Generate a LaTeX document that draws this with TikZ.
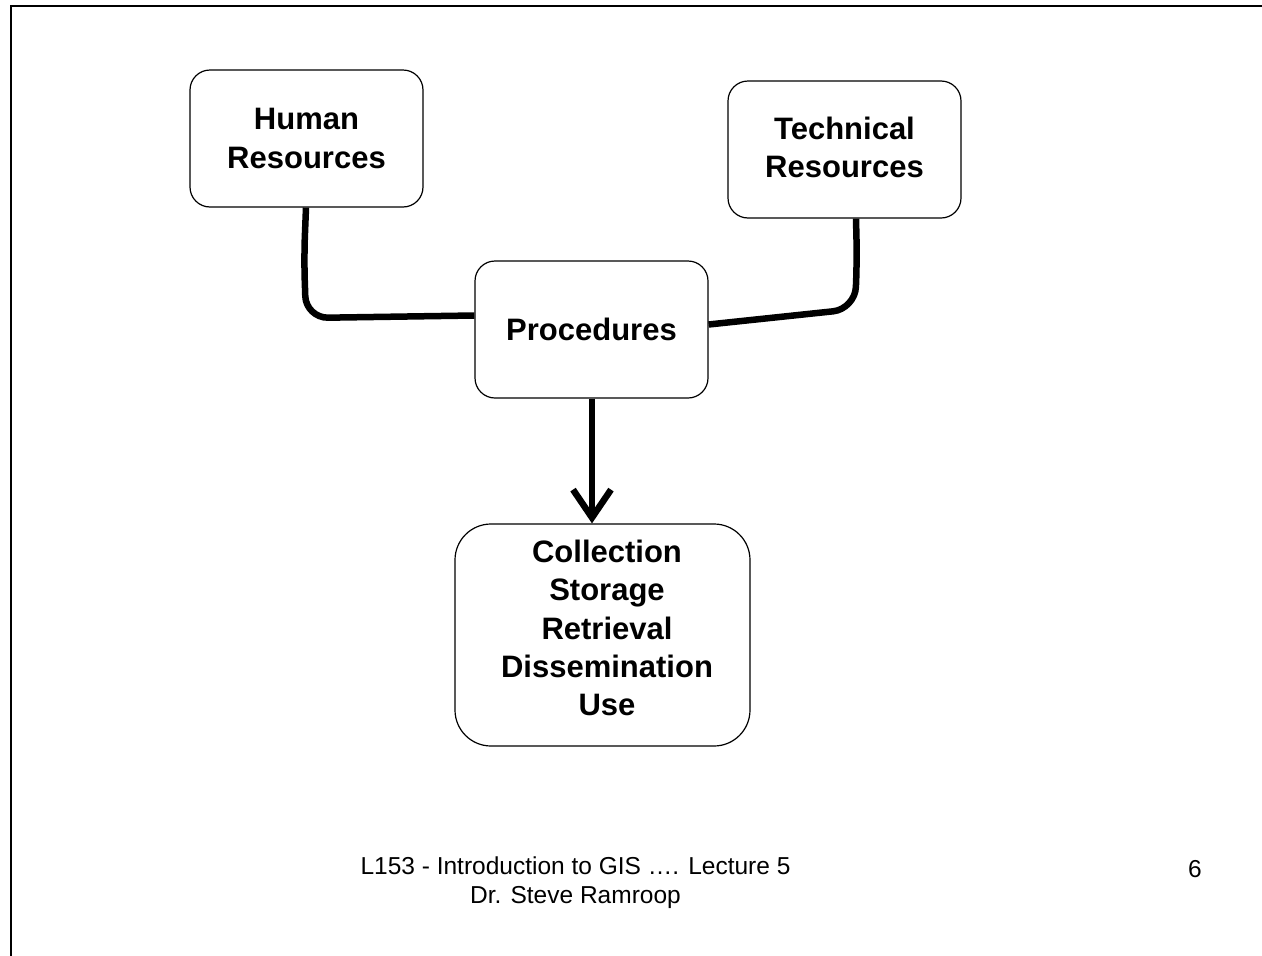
\documentclass[tikz,border=0pt]{standalone}
\usepackage{fontspec}
\setmainfont{Liberation Sans}
\usetikzlibrary{arrows.meta}
\begin{document}
\begin{tikzpicture}[x=1pt,y=-1pt,
  txt/.style={align=center, inner sep=0pt, font=\fontsize{31}{38.3}\selectfont\bfseries},
  box/.style={txt, draw, line width=1.2pt, rounded corners=20pt},
  conn/.style={line width=6.5pt, rounded corners=22pt},
  foot/.style={font=\fontsize{24.5}{29}\selectfont, align=center, inner sep=0pt}]
\path[use as bounding box] (0,0) rectangle (1262,956);
\draw[line width=2.6pt] (11,956) -- (11,6) -- (1262,6);
\node[box, minimum width=233pt, minimum height=137pt] (hr) at (306.5,138.5) {Human\\Resources};
\node[box, minimum width=233pt, minimum height=137pt, text depth=4pt] (tr) at (844.5,149.5) {Technical\\Resources};
\node[box, minimum width=233pt, minimum height=137pt] (proc) at (591.5,329.5) {Procedures};
\node[box, rounded corners=36pt, minimum width=295pt, minimum height=222pt] (coll) at (602.5,635) {};
\node[txt] (colltext) at (607,628) {Collection\\Storage\\Retrieval\\Dissemination\\Use};
\draw[conn] ([xshift=-0.5pt]hr.south) -- (304,258) -- (306,318) -- ([yshift=14pt]proc.west);
\draw[conn] ([xshift=11.5pt]tr.south) -- (857,260) -- (855,309) -- ([yshift=5pt]proc.east);
\draw[line width=6.5pt, -{Straight Barb[length=28pt,width=38pt]}] ([xshift=0.5pt]proc.south) -- ([xshift=-10.5pt]coll.north);
\node[foot] (f1) at (575.5,883) {L153 - Introduction to GIS …. Lecture 5\\Dr. Steve Ramroop};
\node[foot] (f2) at (1195,869) {6};
\end{tikzpicture}
\end{document}
